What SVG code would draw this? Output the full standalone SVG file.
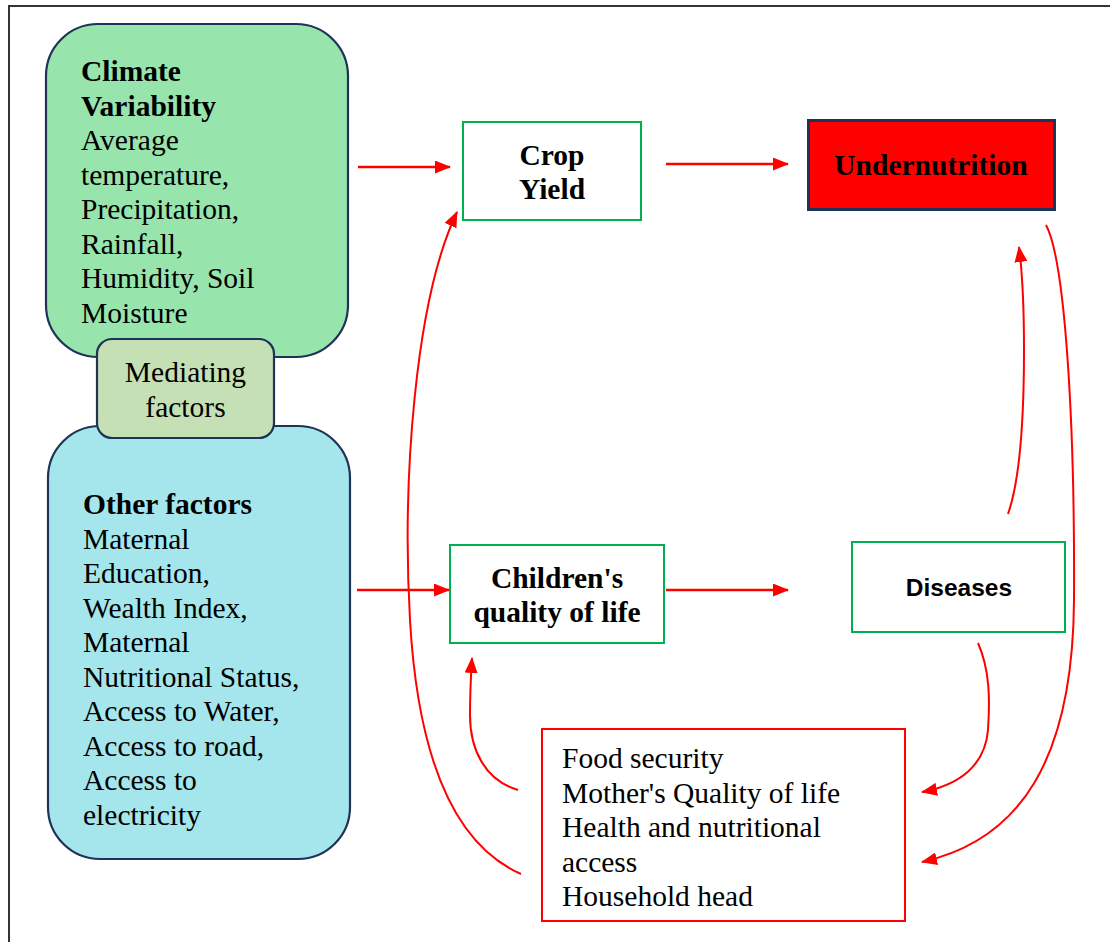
<svg xmlns="http://www.w3.org/2000/svg" width="1110" height="942" viewBox="0 0 1110 942">
<style>
text{font-family:"Liberation Serif","Times New Roman",serif;font-size:29.5px;fill:#000}
.b{font-weight:bold}
.c{text-anchor:middle}
.sans{font-family:"Liberation Sans",Arial,sans-serif;font-size:24.5px;font-weight:bold}
.rnd{stroke:#1f3356;stroke-width:2.2}
.gbox{fill:#fff;stroke:#00b050;stroke-width:2}
.conn{fill:none;stroke:#ff0000;stroke-width:2}
.str{fill:none;stroke:#ff0000;stroke-width:2.5}
</style>
<defs>
<marker id="ah" viewBox="0 0 16 13" refX="15" refY="6.5" markerWidth="16" markerHeight="13" markerUnits="userSpaceOnUse" orient="auto">
<path d="M0,0 L16,6.5 L0,13 z" fill="#ff0000"/>
</marker>
</defs>
<rect width="1110" height="942" fill="#fff"/>
<g id="frame" stroke="#333" stroke-width="2" fill="none">
<path d="M9,942 V6 H1110"/>
</g>
<g id="climate">
<rect class="rnd" x="46" y="24" width="302" height="333" rx="52" fill="#98e4ad"/>
<text x="81" y="81" class="b">Climate</text>
<text x="81" y="115.5" class="b">Variability</text>
<text x="81" y="150">Average</text>
<text x="81" y="184.5">temperature,</text>
<text x="81" y="219">Precipitation,</text>
<text x="81" y="253.5">Rainfall,</text>
<text x="81" y="288">Humidity, Soil</text>
<text x="81" y="322.5">Moisture</text>
</g>
<g id="other">
<rect class="rnd" x="48" y="426" width="302" height="433" rx="52" fill="#a5e6ec"/>
<text x="83" y="514" class="b">Other factors</text>
<text x="83" y="548.5">Maternal</text>
<text x="83" y="583">Education,</text>
<text x="83" y="617.5">Wealth Index,</text>
<text x="83" y="652">Maternal</text>
<text x="83" y="686.5">Nutritional Status,</text>
<text x="83" y="721">Access to Water,</text>
<text x="83" y="755.5">Access to road,</text>
<text x="83" y="790">Access to</text>
<text x="83" y="824.5">electricity</text>
</g>
<g id="mediating">
<rect class="rnd" x="97" y="339" width="177" height="99" rx="15" fill="#c5e0b4"/>
<text x="185.5" y="382" class="c">Mediating</text>
<text x="185.5" y="416.5" class="c">factors</text>
</g>
<g id="crop">
<rect class="gbox" x="463" y="122" width="178" height="98"/>
<text x="552" y="165" class="b c">Crop</text>
<text x="552" y="199" class="b c">Yield</text>
</g>
<g id="undernutrition">
<rect x="808.5" y="120.5" width="246" height="89" fill="#ff0000" stroke="#1f3356" stroke-width="3"/>
<text x="931" y="175" class="b c">Undernutrition</text>
</g>
<g id="children">
<rect class="gbox" x="450" y="545" width="214" height="98"/>
<text x="557" y="588" class="b c">Children's</text>
<text x="557" y="622" class="b c">quality of life</text>
</g>
<g id="diseases">
<rect class="gbox" x="852" y="542" width="213" height="90"/>
<text x="959" y="596" class="sans c">Diseases</text>
</g>
<g id="mediators">
<rect x="542" y="729" width="363" height="192" fill="#fff" stroke="#ff0000" stroke-width="2"/>
<text x="562" y="768">Food security</text>
<text x="562" y="802.5">Mother's Quality of life</text>
<text x="562" y="837">Health and nutritional</text>
<text x="562" y="871.5">access</text>
<text x="562" y="906">Household head</text>
</g>
<g id="connectors">
<path class="str" d="M358,167 H450" marker-end="url(#ah)"/>
<path class="str" d="M666,164 H788" marker-end="url(#ah)"/>
<path class="str" d="M357,590 H449" marker-end="url(#ah)"/>
<path class="str" d="M666,590 H788" marker-end="url(#ah)"/>
<path class="conn" d="M521,874 C455,845 418,760 410,620 C402,480 415,300 457,212" marker-end="url(#ah)"/>
<path class="conn" d="M518,790 C485,780 470,750 470,715 C470,690 471,675 472,658" marker-end="url(#ah)"/>
<path class="conn" d="M978,643 C990,670 990,700 988,730 C985,765 960,785 922,792" marker-end="url(#ah)"/>
<path class="conn" d="M1046,225 C1065,260 1075,420 1074,600 C1073,760 1020,840 922,862" marker-end="url(#ah)"/>
<path class="conn" d="M1008,514 C1020,480 1024,420 1024,350 C1024,300 1022,270 1019,247" marker-end="url(#ah)"/>
</g>
</svg>
